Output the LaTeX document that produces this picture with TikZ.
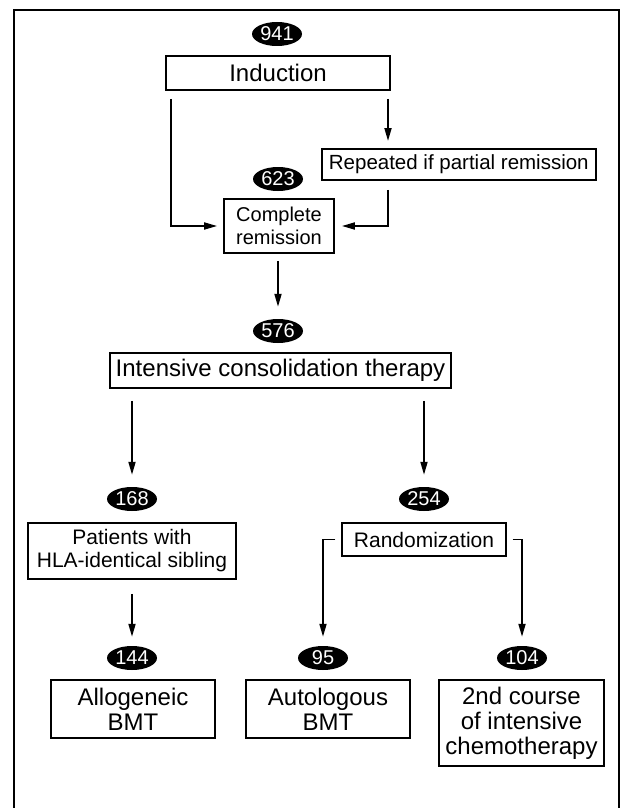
\documentclass[tikz,border=0pt]{standalone}
\usepackage{fontspec}
\setmainfont{Liberation Sans}
\usetikzlibrary{shapes.geometric, arrows.meta, positioning}

\begin{document}
\begin{tikzpicture}[x=1pt, y=-1pt]
    % Define styles for the nodes
    \tikzstyle{stage} = [
        text centered, draw, line width=1.8pt, inner sep=0pt,
        align=center, font=\fontsize{24}{25}\selectfont
    ]
    \tikzstyle{small_stage} = [
        stage, font=\fontsize{20.5}{23}\selectfont
    ]
    \tikzstyle{count} = [
        ellipse, fill=black, text=white, inner sep=0pt,
        minimum width=50pt, minimum height=24pt,
        font=\fontsize{20}{20}\selectfont
    ]
    \tikzstyle{link} = [
        line width=1.8pt, -{Triangle[length=13pt, width=7pt]}
    ]

    \useasboundingbox (0,0) rectangle (623,808);

    % Frame
    \draw[line width=2.6pt] (14,808) |- (619,10) -- (619,808);

    % Induction
    \node[count] (n941) at (277,34) {941};
    \node[stage, minimum width=224pt, minimum height=34pt] (induction) at (278,73) {Induction};
    \coordinate (left_rail) at (171,0);
    \coordinate (right_rail) at (388,0);

    % Repeated induction
    \node[
        small_stage, anchor=north west, minimum height=31pt, inner xsep=7pt
    ] (repeated) at (321,148) {Repeated if partial remission};

    % Complete remission
    \node[count] (n623) at (278,179) {623};
    \node[
        small_stage, font=\fontsize{20}{23}\selectfont,
        minimum width=110pt, minimum height=54pt
    ] (complete) at (279,226) {Complete\\remission};

    \draw[link, shorten <=8pt, shorten >=6pt] (induction.south -| left_rail) |- (complete.west);
    \draw[link, shorten <=8pt, shorten >=7pt] (induction.south -| right_rail) -- (repeated.north -| right_rail);
    \draw[link, shorten <=9pt, shorten >=7pt] (repeated.south -| right_rail) |- (complete.east);

    % Consolidation
    \node[count] (n576) at (278,331) {576};
    \node[stage, minimum width=341pt, minimum height=35pt] (intensive) at (280.5,370.5) {Intensive consolidation therapy};
    \draw[link, shorten <=7pt, shorten >=12pt] (complete.south -| n576) -- (n576.north);

    % Sibling donor arm
    \node[count] (n168) at (132,499) {168};
    \node[
        stage, font=\fontsize{21}{23}\selectfont,
        minimum width=208pt, minimum height=56pt
    ] (sibling) at (132,551) {Patients with\\HLA-identical sibling};
    \draw[link, shorten <=12pt, shorten >=12pt] (intensive.south -| n168) -- (n168.north);

    % Randomization arm
    \node[count] (n254) at (424,499) {254};
    \node[
        stage, line width=1.3pt, font=\fontsize{21}{23}\selectfont,
        minimum width=164pt, minimum height=33pt
    ] (random) at (424,539.5) {Randomization};
    \draw[link, shorten <=12pt, shorten >=12pt] (intensive.south -| n254) -- (n254.north);

    % Treatments
    \node[count] (n144) at (132,658) {144};
    \node[count] (n95) at (323,658) {95};
    \node[count] (n104) at (522,658) {104};

    \node[stage, anchor=north, minimum width=164pt, minimum height=58pt] (allo) at (133,679) {Allogeneic\\BMT};
    \node[stage, anchor=north, minimum width=164pt, minimum height=58pt] (auto) at (328,679) {Autologous\\BMT};
    \node[
        stage, anchor=north, minimum width=165pt, minimum height=86pt
    ] (second) at (521.5,679) {2nd course\\of intensive\\chemotherapy};

    \draw[link, shorten <=14pt, shorten >=9pt] (sibling.south) -- (n144.north);
    \draw[link, shorten <=6pt, shorten >=9pt] (random.west) -| (n95.north);
    \draw[link, shorten <=6pt, shorten >=9pt] (random.east) -| (n104.north);

\end{tikzpicture}
\end{document}
